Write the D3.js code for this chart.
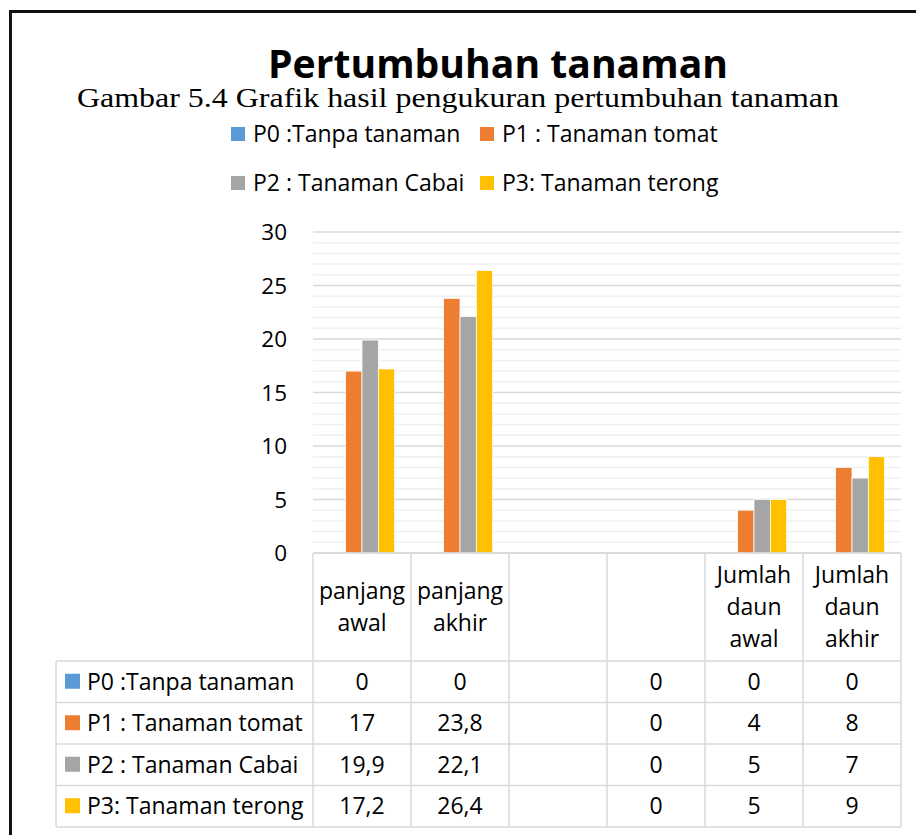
<!doctype html>
<html lang="en">
<head>
  <meta charset="utf-8">
  <title>Pertumbuhan tanaman</title>
  <script src="https://d3js.org/d3.v7.min.js"></script>
  <style>
    body { margin: 0; background: #fff; }
    text { font-family: "Open Sans", sans-serif; fill: #000; }
  </style>
</head>
<body>
<svg id="chart" width="916" height="835"></svg>
<script>
// Data
var categories = ["panjang awal", "panjang akhir", "", "", "Jumlah daun awal", "Jumlah daun akhir"];
var seriesNames = ["P0 :Tanpa tanaman", "P1 : Tanaman tomat", "P2 : Tanaman Cabai", "P3: Tanaman terong"];
var p0 = [0, 0, null, 0, 0, 0];
var p1 = [17, 23.8, null, 0, 4, 8];
var p2 = [19.9, 22.1, null, 0, 5, 7];
var p3 = [17.2, 26.4, null, 0, 5, 9];
var colors = ["#5B9BD5", "#ED7D31", "#A5A5A5", "#FFC000"];
var yTicks = [0, 5, 10, 15, 20, 25, 30];

var series = [p0, p1, p2, p3];

var svg = d3.select("#chart");

// outer frame (right and bottom edges fall outside the picture)
svg.append("rect")
  .attr("x", 10.5).attr("y", 11.5)
  .attr("width", 1000).attr("height", 1000)
  .attr("fill", "none").attr("stroke", "#111").attr("stroke-width", 3);

// titles
svg.append("text")
  .attr("x", 498).attr("y", 78)
  .attr("text-anchor", "middle")
  .style("font-weight", "bold").style("font-size", "39px")
  .attr("textLength", 460).attr("lengthAdjust", "spacingAndGlyphs")
  .text("Pertumbuhan tanaman");

svg.append("text")
  .attr("x", 458).attr("y", 107)
  .attr("text-anchor", "middle")
  .style("font-family", "'Liberation Serif', 'Times New Roman', serif")
  .style("font-size", "28px")
  .attr("textLength", 762).attr("lengthAdjust", "spacingAndGlyphs")
  .text("Gambar 5.4 Grafik hasil pengukuran pertumbuhan tanaman");

// legend, two per row
var legend = svg.append("g").selectAll("g")
  .data(seriesNames)
  .enter().append("g")
    .attr("transform", function(d, i) {
      return "translate(" + (i % 2 ? 480 : 231) + "," + (i < 2 ? 127 : 176) + ")";
    });
legend.append("rect")
  .attr("width", 14).attr("height", 14)
  .attr("fill", function(d, i) { return colors[i]; });
legend.append("text")
  .attr("x", 22).attr("y", 15)
  .style("font-size", "23px")
  .text(function(d) { return d; });

// scales
var plotLeft = 313, plotRight = 901, plotTop = 232, plotBottom = 553;
var x0 = d3.scaleBand()
  .domain(d3.range(categories.length))
  .range([plotLeft, plotRight]);
var bw = x0.bandwidth();
var x1 = d3.scaleBand()
  .domain(d3.range(series.length))
  .range([bw / 6, bw * 5 / 6]);
var y = d3.scaleLinear()
  .domain([0, 30])
  .range([plotBottom, plotTop]);

// gridlines: minor every 1, major every 5
svg.append("g").selectAll("line")
  .data(d3.range(1, 30).filter(function(v) { return v % 5 !== 0; }))
  .enter().append("line")
    .attr("x1", plotLeft).attr("x2", plotRight)
    .attr("y1", function(d) { return y(d); })
    .attr("y2", function(d) { return y(d); })
    .attr("stroke", "#f0f0f0").attr("stroke-width", 1.5);

svg.append("g").selectAll("line")
  .data(yTicks)
  .enter().append("line")
    .attr("x1", plotLeft).attr("x2", plotRight)
    .attr("y1", function(d) { return y(d); })
    .attr("y2", function(d) { return y(d); })
    .attr("stroke", "#d9d9d9").attr("stroke-width", 1.5);

// y axis labels
svg.append("g").selectAll("text")
  .data(yTicks)
  .enter().append("text")
    .attr("x", 287)
    .attr("y", function(d) { return y(d) + 8; })
    .attr("text-anchor", "end")
    .style("font-size", "22.5px")
    .text(function(d) { return d; });

// bars
var groups = svg.append("g").selectAll("g")
  .data(series)
  .enter().append("g")
    .attr("fill", function(d, i) { return colors[i]; });
groups.selectAll("rect")
  .data(function(d, si) {
    return d.map(function(v, ci) { return { s: si, c: ci, v: v }; })
      .filter(function(e) { return e.v !== null && e.v > 0; });
  })
  .enter().append("rect")
    .attr("x", function(d) { return x0(d.c) + x1(d.s); })
    .attr("width", x1.bandwidth())
    .attr("y", function(d) { return y(d.v); })
    .attr("height", function(d) { return y(0) - y(d.v); })
    .attr("stroke", "#fff").attr("stroke-width", 0.75);

// data table
var tableTop = plotBottom, headBottom = 661, tableBottom = 827, labelLeft = 56;
var rowY = d3.scaleBand()
  .domain(d3.range(series.length))
  .range([headBottom, tableBottom]);
var grid = svg.append("g")
  .attr("stroke", "#d9d9d9").attr("stroke-width", 1.5);

grid.append("line")
  .attr("x1", plotLeft).attr("x2", plotRight)
  .attr("y1", tableTop).attr("y2", tableTop);
grid.selectAll(".hrow")
  .data(d3.range(series.length + 1))
  .enter().append("line")
    .attr("x1", labelLeft).attr("x2", plotRight)
    .attr("y1", function(d) { return headBottom + d * rowY.bandwidth(); })
    .attr("y2", function(d) { return headBottom + d * rowY.bandwidth(); });
grid.selectAll(".vcol")
  .data(d3.range(categories.length + 1))
  .enter().append("line")
    .attr("x1", function(d) { return plotLeft + d * bw; })
    .attr("x2", function(d) { return plotLeft + d * bw; })
    .attr("y1", tableTop).attr("y2", tableBottom);
grid.append("line")
  .attr("x1", labelLeft).attr("x2", labelLeft)
  .attr("y1", headBottom).attr("y2", tableBottom);

// header: category names, one word per line
var lineH = 32;
svg.append("g").selectAll("text")
  .data(categories)
  .enter().append("text")
    .attr("text-anchor", "middle")
    .style("font-size", "23px")
    .each(function(d, i) {
      var words = d ? d.split(" ") : [];
      var first = (tableTop + headBottom) / 2 + 8 - (words.length - 1) * lineH / 2;
      d3.select(this).selectAll("tspan")
        .data(words)
        .enter().append("tspan")
          .attr("x", x0(i) + bw / 2)
          .attr("y", function(w, k) { return first + k * lineH; })
          .text(function(w) { return w; });
    });

// table rows
var rows = svg.append("g").selectAll("g")
  .data(series)
  .enter().append("g")
    .attr("transform", function(d, i) { return "translate(0," + rowY(i) + ")"; });
var rh = rowY.bandwidth();
rows.append("rect")
  .attr("x", 65).attr("y", rh / 2 - 8)
  .attr("width", 15).attr("height", 15)
  .attr("fill", function(d, i) { return colors[i]; });
rows.append("text")
  .attr("x", 87).attr("y", rh / 2 + 8)
  .style("font-size", "23px")
  .text(function(d, i) { return seriesNames[i]; });
rows.selectAll(".val")
  .data(function(d) { return d; })
  .enter().append("text")
    .attr("x", function(v, ci) { return x0(ci) + bw / 2; })
    .attr("y", rh / 2 + 8)
    .attr("text-anchor", "middle")
    .style("font-size", "23px")
    .text(function(v) { return v === null ? "" : String(v).replace(".", ","); });
</script>
</body>
</html>
